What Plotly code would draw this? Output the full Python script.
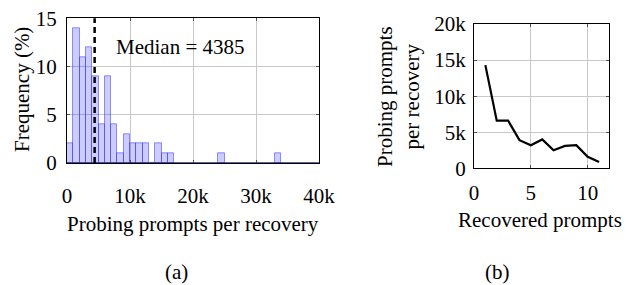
import plotly.graph_objects as go

# Histogram (a): bins of 1k probing prompts
bin_starts = [0, 1000, 2000, 3000, 4000, 5000, 6000, 7000, 8000, 9000, 10000, 11000,
              12000, 13000, 14000, 15000, 16000, 24000, 33000]
frequency = [2, 14, 11, 12, 9, 4, 9, 4, 1, 3, 2, 2, 2, 0, 2, 1, 1, 1, 1]
bin_width = 1000
median_value = 4385

hist_xtick_vals = [0, 10000, 20000, 30000, 40000]
hist_xtick_text = ["0", "10k", "20k", "30k", "40k"]
hist_ytick_vals = [0, 5, 10, 15]

# Line (b)
recovered = [1, 2, 3, 4, 5, 6, 7, 8, 9, 10, 11]
probing_per_recovery = [14300, 6600, 6600, 3900, 3200, 4000, 2500, 3100, 3200, 1600, 870]
line_ytick_vals = [0, 5000, 10000, 15000, 20000]
line_ytick_text = ["0", "5k", "10k", "15k", "20k"]
line_xtick_vals = [0, 5, 10]

FONT = "Liberation Serif"
FS = 21
W, H = 626, 285

fig = go.Figure()

bin_centers = [b + bin_width / 2 for b in bin_starts]
fig.add_trace(go.Bar(
    x=bin_centers, y=frequency, width=bin_width,
    marker=dict(color="rgba(0,0,255,0.2)", line=dict(color="rgba(60,60,255,0.55)", width=1)),
    xaxis="x", yaxis="y", showlegend=False, hoverinfo="skip",
))

fig.add_trace(go.Scatter(
    x=recovered, y=probing_per_recovery, mode="lines",
    line=dict(color="black", width=2.2),
    xaxis="x2", yaxis="y2", showlegend=False, hoverinfo="skip",
))

def px_x(p):
    return p / W

def px_y(p):
    return 1 - p / H

grid = "#c8c8c8"
common = dict(showline=True, linecolor="black", linewidth=1, mirror="allticks",
              ticks="inside", ticklen=3, tickcolor="#555", showgrid=True, gridcolor=grid,
              gridwidth=1, zeroline=False, automargin=False,
              tickfont=dict(family=FONT, size=FS, color="black"))

fig.update_layout(
    template="none",
    width=W, height=H,
    margin=dict(l=0, r=0, t=0, b=0, pad=0),
    paper_bgcolor="white", plot_bgcolor="white",
    font=dict(family=FONT, size=FS, color="black"),
    bargap=0,
    xaxis=dict(domain=[px_x(67), px_x(319)], range=[0, 40000], ticklabelstandoff=14,
               tickvals=hist_xtick_vals, ticktext=hist_xtick_text, anchor="y", **common),
    yaxis=dict(domain=[px_y(163), px_y(18.3)], range=[0, 15], ticklabelstandoff=5,
               tickvals=hist_ytick_vals, anchor="x", **common),
    xaxis2=dict(domain=[px_x(474), px_x(609.3)], range=[0, 11.9], ticklabelstandoff=5,
                tickvals=line_xtick_vals, anchor="y2", **common),
    yaxis2=dict(domain=[px_y(168.3), px_y(24)], range=[0, 20000], ticklabelstandoff=3,
                tickvals=line_ytick_vals, ticktext=line_ytick_text, anchor="x2", **common),
)

# bottom axis line of histogram (navy from zero-height bin outlines)
fig.add_shape(type="line", xref="x domain", yref="y", x0=0, x1=1, y0=0, y1=0,
              line=dict(color="#2a2a80", width=1.5))
# median line
fig.add_shape(type="line", xref="x", yref="y domain", x0=median_value, x1=median_value,
              y0=0, y1=1, line=dict(color="black", width=2.5, dash="6px,4px"))

ann = [
    dict(text=f"Median = {median_value}", x=18000, y=12, xref="x", yref="y",
         showarrow=False),
    dict(text="Frequency (%)", x=px_x(22), y=px_y(90), xref="paper", yref="paper",
         textangle=-90, showarrow=False, xanchor="center", yanchor="middle"),
    dict(text="Probing prompts per recovery", x=px_x(193), y=px_y(224), xref="paper",
         yref="paper", showarrow=False, xanchor="center", yanchor="middle"),
    dict(text="Probing prompts<br>per recovery", x=px_x(399), y=px_y(97), xref="paper",
         yref="paper", textangle=-90, showarrow=False, xanchor="center", yanchor="middle"),
    dict(text="Recovered prompts", x=px_x(540), y=px_y(220), xref="paper", yref="paper",
         showarrow=False, xanchor="center", yanchor="middle"),
    dict(text="(a)", x=px_x(176), y=px_y(272), xref="paper", yref="paper",
         showarrow=False, xanchor="center", yanchor="middle"),
    dict(text="(b)", x=px_x(497), y=px_y(272), xref="paper", yref="paper",
         showarrow=False, xanchor="center", yanchor="middle"),
]
fig.update_layout(annotations=ann)

fig.write_html("out.html", config={"displayModeBar": False},
               post_script="document.body.style.margin='0';document.body.style.overflow='hidden';")
